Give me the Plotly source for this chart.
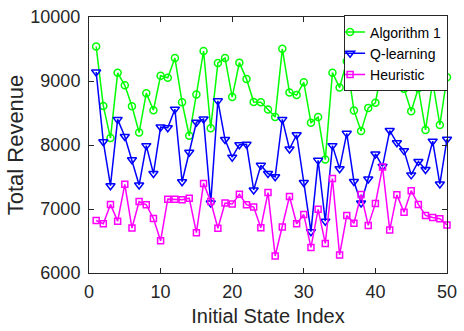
import plotly.graph_objects as go

state_index = list(range(1, 51))

algorithm1 = [9538, 8610, 8108, 9128, 8933, 8605, 8195, 8810, 8544, 9082,
              9051, 9359, 8667, 8144, 8790, 9467, 8262, 9282, 9359, 8749,
              9287, 9030, 8672, 8667, 8554, 8436, 9503, 8821, 8780, 8979,
              8349, 8436, 7772, 9130, 8897, 9310, 8540, 8220, 8580, 8660,
              9250, 8930, 9300, 8877, 8528, 8887, 8236, 8990, 8313, 9060]

q_learning = [9140, 8050, 7364, 8400, 8133, 7769, 7374, 7990, 7554, 8280,
              8270, 8560, 7426, 7887, 8355, 8405, 7092, 8690, 8085, 7810,
              8005, 8010, 7297, 7682, 7554, 7503, 8400, 7938, 8160, 7415,
              6646, 7760, 6810, 7990, 7630, 8182, 7430, 7095, 7470, 7860,
              7666, 8226, 8035, 7912, 7533, 7743, 7618, 8060, 7390, 8090]

heuristic = [6821, 6769, 7072, 6810, 7385, 6703, 7118, 7067, 6851, 6503,
             7154, 7154, 7144, 7169, 6630, 7400, 7118, 6700, 7092, 7077,
             7231, 7067, 7031, 6708, 7256, 6265, 6718, 7195, 6769, 6913,
             6400, 6995, 6462, 7477, 6282, 6897, 6776, 7226, 6744, 7084,
             7656, 6670, 7221, 6950, 7287, 7072, 6900, 6866, 6849, 6749]

x_ticks = [0, 10, 20, 30, 40, 50]
y_ticks = [6000, 7000, 8000, 9000, 10000]

series = [
    ("Algorithm 1", algorithm1, "#00FF00", "circle-open", 7),
    ("Q-learning", q_learning, "#0000FF", "triangle-down-open", 8),
    ("Heuristic", heuristic, "#FF00FF", "square-open", 6),
]

FONT = "Liberation Sans, Arial, sans-serif"

fig = go.Figure()
for name, vals, color, symbol, size in series:
    fig.add_trace(go.Scatter(
        x=state_index, y=vals, name=name, mode="lines+markers",
        line=dict(color=color, width=1.5),
        marker=dict(symbol=symbol, size=size, color=color,
                    line=dict(color=color, width=1.5)),
        cliponaxis=False,
    ))

axis_common = dict(
    showgrid=False, zeroline=False, showline=True, mirror="ticks",
    linecolor="#262626", linewidth=1, ticks="inside", ticklen=5,
    tickcolor="#262626", tickwidth=1,
    tickfont=dict(family=FONT, size=18, color="#262626"),
    ticklabeloverflow="allow",
)

fig.update_xaxes(
    range=[0, 50], tickvals=x_ticks, ticktext=[str(v) for v in x_ticks],
    title=dict(text="Initial State Index", standoff=8,
               font=dict(family=FONT, size=20, color="#262626")),
    ticklabelstandoff=2,
    **axis_common,
)
fig.update_yaxes(
    range=[6000, 10000], tickvals=y_ticks, ticktext=[str(v) for v in y_ticks],
    title=dict(text="Total Revenue", standoff=0,
               font=dict(family=FONT, size=22, color="#262626")),
    ticklabelstandoff=4,
    **axis_common,
)

fig.update_layout(
    width=464, height=331,
    margin=dict(l=89, r=7, t=13, b=58, pad=0),
    plot_bgcolor="white", paper_bgcolor="white",
    font=dict(family=FONT, color="#262626"),
    legend=dict(
        x=1.003, y=1.006, xanchor="right", yanchor="top",
        bgcolor="white", bordercolor="#262626", borderwidth=1,
        font=dict(family=FONT, size=14, color="#000000"),
        itemwidth=30, tracegroupgap=0, indentation=-15,
    ),
)

fig.write_html("out.html", config={"displayModeBar": False, "staticPlot": True})

with open("out.html", "r", encoding="utf-8") as f:
    html = f.read()
html = html.replace("<head>", "<head><style>html,body{margin:0;padding:0;overflow:hidden;}</style>", 1)
with open("out.html", "w", encoding="utf-8") as f:
    f.write(html)
